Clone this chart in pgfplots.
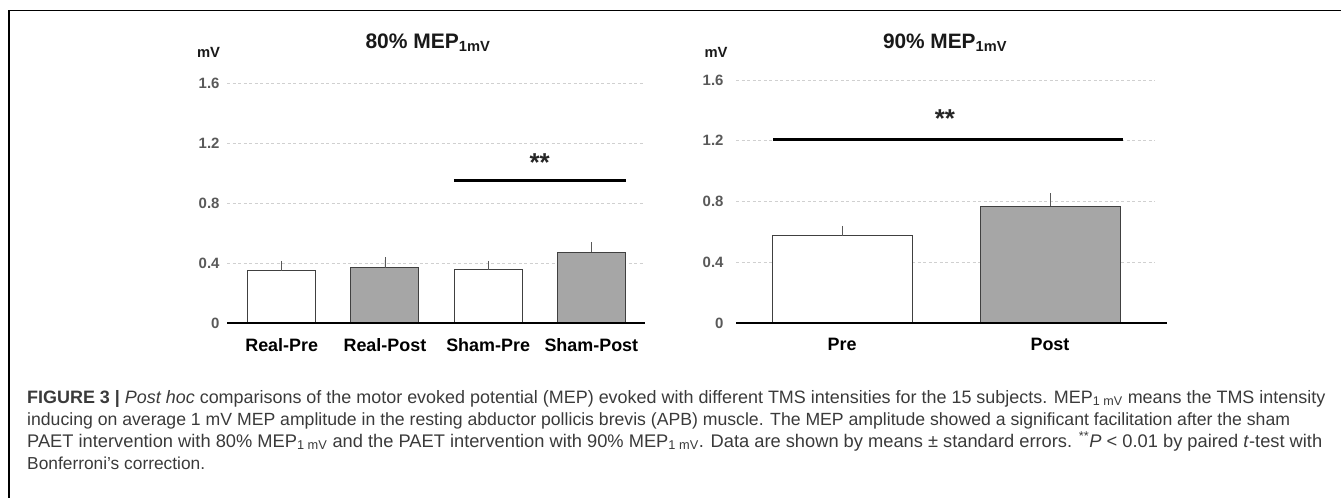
\documentclass[border=0pt]{standalone}
\usepackage{fontspec}
\setmainfont{Liberation Sans}
\usepackage{graphicx}
\usepackage{pgfplots}
\pgfplotsset{compat=1.18}
\definecolor{tickgray}{HTML}{595959}
\definecolor{barfill}{HTML}{A6A6A6}
\definecolor{baredge}{HTML}{404040}
\definecolor{gridc}{HTML}{D0D0D0}
\definecolor{captc}{HTML}{3A3A3A}

\pgfplotstableread{
x y e
0 0.350 0.045
2 0.355 0.040
}\leftwhite
\pgfplotstableread{
x y e
1 0.370 0.050
3 0.472 0.048
}\leftgray
\pgfplotstableread{
x y e
0 0.575 0.045
}\rightwhite
\pgfplotstableread{
x y e
1 0.770 0.066
}\rightgray

\pgfplotsset{
  mybars/.style={
    scale only axis, clip=false, anchor=south west,
    ymin=0, ymax=1.6, ytick={0,0.4,0.8,1.2,1.6},
    yticklabels={0,0.4,0.8,1.2,1.6},
    ymajorgrids, grid style={gridc, dash pattern=on 3bp off 2.5bp, line width=0.7bp},
    axis line style={draw=none}, major tick length=0pt,
    ybar, bar shift=0pt,
    yticklabel style={text=tickgray, font=\bfseries\fontsize{15}{16}\selectfont},
    xticklabel style={text=black, font=\bfseries\fontsize{18}{19}\selectfont, yshift=-12bp},
  },
  barw/.style={fill=white, draw=baredge, line width=1bp,
    error bars/.cd, y dir=plus, y explicit,
    error bar style={tickgray, line width=0.8bp},
    error mark options={tickgray, mark size=3bp, line width=0.8bp}},
  barg/.style={fill=barfill, draw=baredge, line width=1bp,
    error bars/.cd, y dir=plus, y explicit,
    error bar style={tickgray, line width=0.8bp},
    error mark options={tickgray, mark size=3bp, line width=0.8bp}},
}

\begin{document}
\begin{tikzpicture}
\useasboundingbox (0,0) rectangle (1341bp,-498bp);
\draw[line width=1.5bp] (9bp,-498bp) -- (9bp,-10.5bp) -- (1341bp,-10.5bp);

% left chart
\begin{axis}[mybars, at={(227bp,-323bp)}, width=418bp, height=240bp,
  xmin=-0.53, xmax=3.52, bar width=68bp,
  xtick={0,1,2,3},
  xticklabels={Real-Pre,Real-Post,Sham-Pre,Sham-Post},
  yticklabel style={xshift=-4bp}]
\addplot[barw] table[x=x,y=y,y error=e] {\leftwhite};
\addplot[barg] table[x=x,y=y,y error=e] {\leftgray};
\draw[black, line width=2.5bp] (axis cs:-0.53,0) -- (axis cs:3.52,0);
\draw[black, line width=3bp] (axis cs:1.667,0.947) -- (axis cs:3.333,0.947);
\node[font=\bfseries\fontsize{26}{26}\selectfont, text=black!85] at (axis cs:2.5,1.069) {**};
\end{axis}

% right chart
\begin{axis}[mybars, at={(736bp,-323bp)}, width=419bp, height=243bp,
  xmin=-0.51, xmax=1.505, bar width=140bp,
  xtick={0,1}, xticklabels={Pre,Post},
  yticklabel style={xshift=-9bp}]
\addplot[barw] table[x=x,y=y,y error=e] {\rightwhite};
\addplot[barg] table[x=x,y=y,y error=e] {\rightgray};
\draw[black, line width=2.5bp] (axis cs:-0.51,0) -- (axis cs:1.5625,0);
\draw[black, line width=3bp] (axis cs:-0.33,1.208) -- (axis cs:1.35,1.208);
\node[font=\bfseries\fontsize{26}{26}\selectfont, text=black!85] at (axis cs:0.495,1.346) {**};
\end{axis}

% titles and unit labels
\node[font=\bfseries\fontsize{20}{20}\selectfont, text=black!90] at (428bp,-43bp) {\resizebox{125bp}{!}{80\% MEP\textsubscript{1mV}}};
\node[font=\bfseries\fontsize{20}{20}\selectfont, text=black!90] at (945bp,-43bp) {\resizebox{124bp}{!}{90\% MEP\textsubscript{1mV}}};
\node[font=\bfseries\fontsize{16}{16}\selectfont, text=black!90] at (208.5bp,-52bp) {\resizebox{23bp}{!}{mV}};
\node[font=\bfseries\fontsize{16}{16}\selectfont, text=black!90] at (716bp,-52bp) {\resizebox{23bp}{!}{mV}};

% caption
\begin{scope}[every node/.style={anchor=base west, inner sep=0pt, text=captc, font=\fontsize{17.9}{20}\selectfont}]
\node at (27bp,-403bp) {\resizebox{1298bp}{!}{\textbf{FIGURE 3} \textbf{|} \textit{Post hoc} comparisons of the motor evoked potential (MEP) evoked with different TMS intensities for the 15 subjects. MEP\textsubscript{1 mV} means the TMS intensity}};
\node at (27bp,-425bp) {\resizebox{1263bp}{!}{inducing on average 1 mV MEP amplitude in the resting abductor pollicis brevis (APB) muscle. The MEP amplitude showed a significant facilitation after the sham}};
\node at (27bp,-447bp) {\resizebox{1295bp}{!}{PAET intervention with 80\% MEP\textsubscript{1 mV} and the PAET intervention with 90\% MEP\textsubscript{1 mV}. Data are shown by means ± standard errors. \textsuperscript{**}\textit{P} < 0.01 by paired \textit{t}-test with}};
\node at (27bp,-469bp) {\resizebox{178bp}{!}{Bonferroni's correction.}};
\end{scope}
\end{tikzpicture}
\end{document}
